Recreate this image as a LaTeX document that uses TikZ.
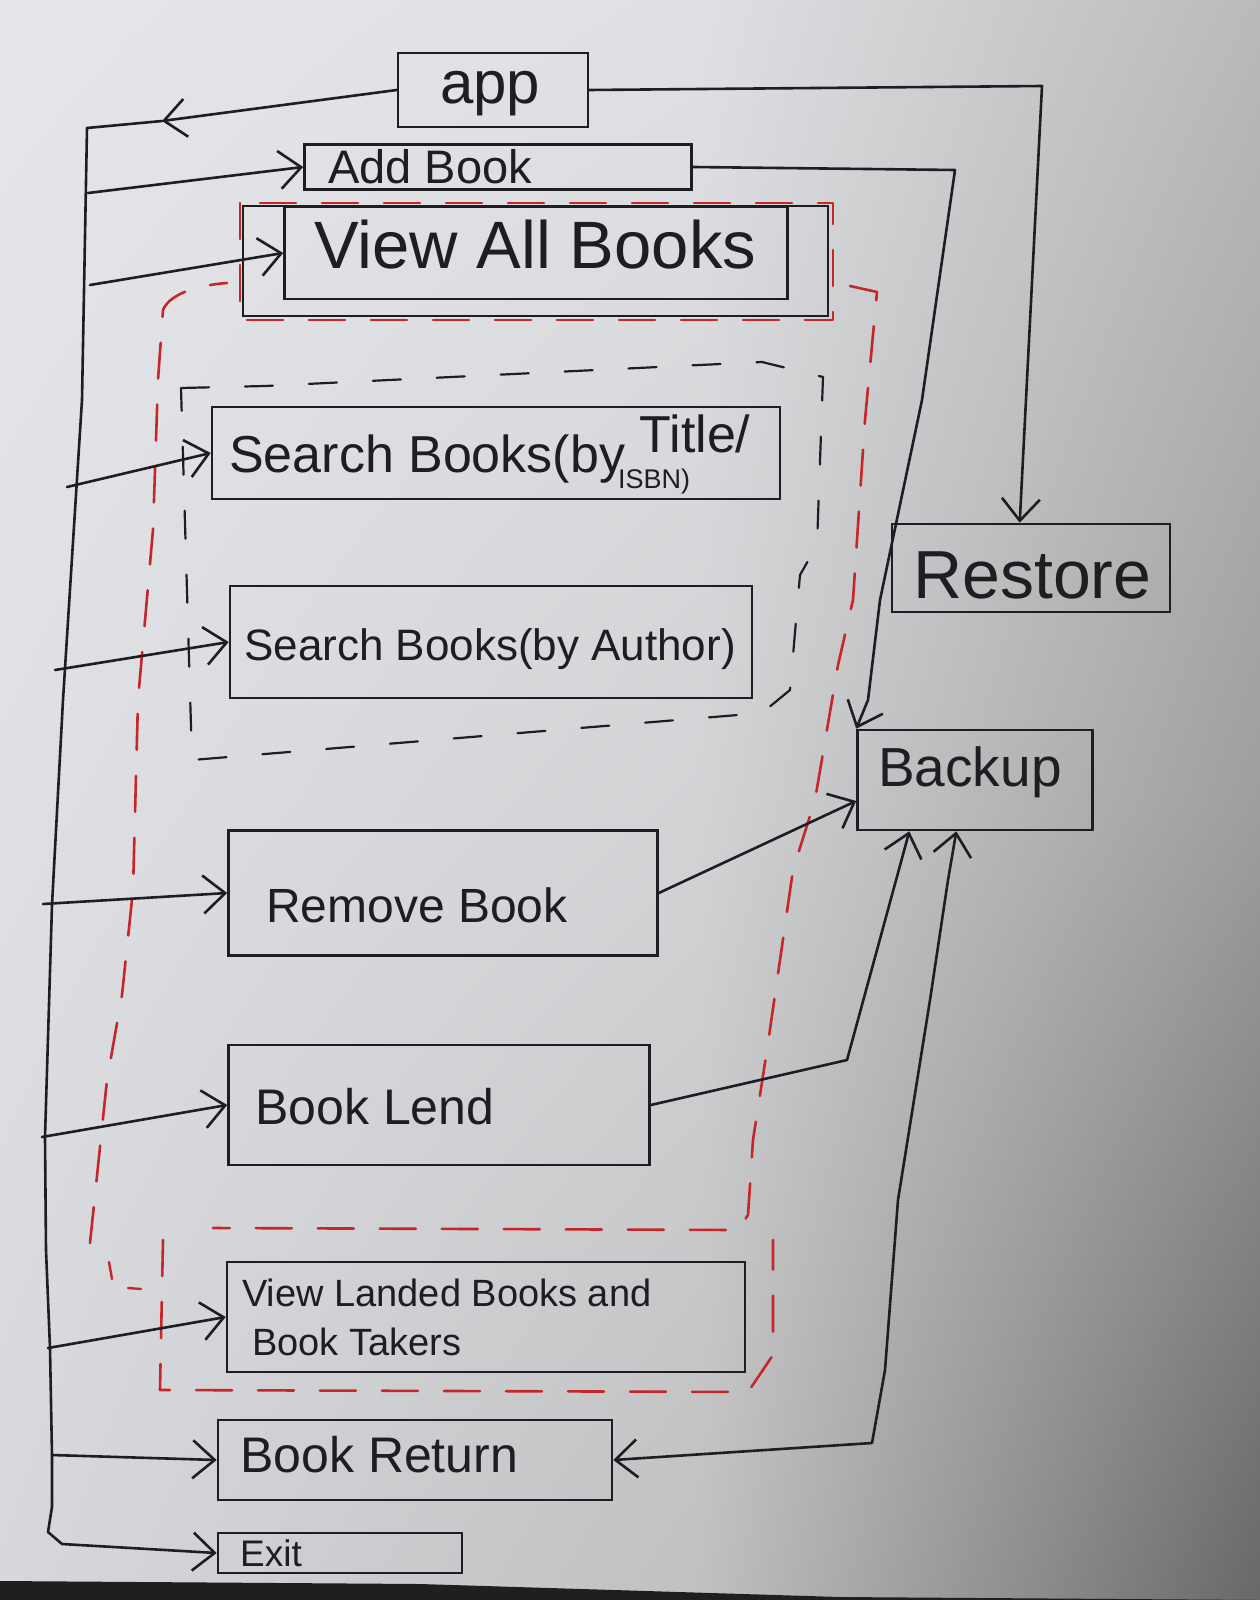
\documentclass[tikz,border=0pt]{standalone}
\usepackage{fontspec}
\setmainfont{Liberation Sans}
\usetikzlibrary{arrows.meta,shadings}
\definecolor{ink}{RGB}{30,30,34}
\definecolor{redink}{RGB}{198,38,42}
\definecolor{bgA}{RGB}{228,230,233}
\definecolor{bgB}{RGB}{222,224,227}
\definecolor{bgC}{RGB}{186,186,186}
\definecolor{bgD}{RGB}{222,224,228}
\definecolor{bgE}{RGB}{210,211,213}
\definecolor{bgF}{RGB}{158,158,158}
\definecolor{bgG}{RGB}{214,216,220}
\definecolor{bgH}{RGB}{192,192,193}
\definecolor{bgI}{RGB}{104,104,104}
\newcommand\myfs[1]{\fontsize{#1}{#1}\selectfont}
\begin{document}
\begin{tikzpicture}[x=1pt,y=-1pt,
  wire/.style={draw=ink, line width=2.6pt, line join=round, line cap=round},
  box/.style={draw=ink, line width=2.6pt, inner sep=0pt, rectangle},
  lbl/.style={anchor=base west, inner sep=0pt, text=ink},
  rdash/.style={draw=redink, line width=2.6pt, dash pattern=on 36pt off 26pt, line cap=round, line join=round},
  kdash/.style={draw=ink, line width=2.2pt, dash pattern=on 28pt off 36pt, line cap=round, line join=round},
  >={Straight Barb[length=22pt,width=38pt]}]
\useasboundingbox (0,0) rectangle (1260,1600);
% paper
\shade[upper left=bgA, upper right=bgB, lower left=bgD, lower right=bgE] (0,0) rectangle (700,800);
\shade[upper left=bgB, upper right=bgC, lower left=bgE, lower right=bgF] (700,0) rectangle (1260,800);
\shade[upper left=bgD, upper right=bgE, lower left=bgG, lower right=bgH] (0,800) rectangle (700,1600);
\shade[upper left=bgE, upper right=bgF, lower left=bgH, lower right=bgI] (700,800) rectangle (1260,1600);
\fill[black!88] (0,1581) -- (420,1584) -- (840,1597) -- (1260,1600) -- (0,1600) -- cycle;

% boxes
\node[box, minimum width=190pt, minimum height=74pt] (app) at (493,90) {};
\node[box, minimum width=387pt, minimum height=45pt] (addbook) at (498,167) {};
\node[box, minimum width=503pt, minimum height=92pt] (viewall) at (536,253) {};
\node[box, minimum width=568pt, minimum height=92pt] (search1) at (496,453) {};
\node[box, minimum width=522pt, minimum height=112pt] (search2) at (491,642) {};
\node[box, minimum width=429pt, minimum height=125pt] (remove) at (443,893) {};
\node[box, minimum width=421pt, minimum height=120pt] (lend) at (439,1105) {};
\node[box, minimum width=518pt, minimum height=110pt] (landed) at (486,1317) {};
\node[box, minimum width=394pt, minimum height=80pt] (bret) at (415,1460) {};
\node[box, minimum width=244pt, minimum height=40pt] (exit) at (340,1553) {};
\node[box, minimum width=278pt, minimum height=88pt] (restore) at (1031,568) {};
\node[box, minimum width=235pt, minimum height=100pt] (backup) at (975,780) {};

% labels
\node[lbl, font=\myfs{60}] (tapp) at (440,104) {app};
\node[lbl, font=\myfs{47}] (tadd) at (328,183) {Add Book};
\node[lbl, font=\myfs{67}] (tview) at (314,268) {View All Books};
\node[lbl, font=\myfs{52}] (ts1) at (229,472) {Search Books(by \raisebox{20pt}{Title/}};
\node[lbl, font=\myfs{27}] (ts1b) at (618,488) {ISBN)};
\node[lbl, font=\myfs{44}] (ts2) at (244,660) {Search Books(by Author)};
\node[lbl, font=\myfs{48}] (trem) at (266,922) {Remove Book};
\node[lbl, font=\myfs{50}] (tlend) at (255,1124) {Book Lend};
\node[lbl, font=\myfs{38}] (tland1) at (242,1306) {View Landed Books and};
\node[lbl, font=\myfs{38}] (tland2) at (252,1355) {Book Takers};
\node[lbl, font=\myfs{50}] (tret) at (240,1472) {Book Return};
\node[lbl, font=\myfs{37}] (texit) at (240,1566) {Exit};
\node[lbl, font=\myfs{68}] (trest) at (913,598) {Restore};
\node[lbl, font=\myfs{55}] (tback) at (878,786) {Backup};

% group outlines
\draw[ink, line width=1.6pt] (243,206) rectangle (828,316);
\draw[rdash] (240,203) rectangle (833,320);
\draw[kdash] (181,388) -- (265,386) -- (762,362) -- (823,377) -- (817,545) -- (800,575) -- (790,690) -- (762,713) -- (192,760) -- cycle;
\draw[rdash] (90,1243) -- (107,1080) -- (122,995) -- (133,890) -- (138,700) -- (153,530) -- (158,380) -- (163,310) .. controls (170,293) and (200,285) .. (227,283);
\draw[rdash] (850,286) -- (877,292) -- (865,420) -- (853,600) -- (838,665) -- (815,800) -- (793,870) -- (767,1050) -- (753,1140) -- (748,1215) -- (738,1230) -- (213,1228);
\draw[redink, line width=2.4pt, line cap=round] (109,1262) -- (112,1279);
\draw[redink, line width=2.4pt, line cap=round] (128,1288) -- (141,1289);
\draw[rdash] (163,1240) -- (160,1390) -- (748,1392) -- (773,1355) -- (773,1240);

% trunk and branches
\coordinate (aL) at (162,121);
\coordinate (t0) at (87,128);
\coordinate (b1) at (88,193);
\coordinate (b2) at (90,285);
\coordinate (b3) at (67,487);
\coordinate (b4) at (55,670);
\coordinate (b5) at (43,904);
\coordinate (b6) at (42,1137);
\coordinate (b7) at (48,1348);
\coordinate (b8) at (52,1455);
\coordinate (tEnd) at (52,1507);
\draw[wire,->] (app.west) -- (aL);
\draw[wire] (aL) -- (t0);
\draw[wire] (t0) -- (82,400) -- (63,700) -- (52,905) -- (45,1137) -- (46,1250) -- (50,1348) -- (52,1455) -- (tEnd);
\draw[wire,->] (tEnd) -- (48,1532) -- (62,1544) -- (exit.west);
\draw[wire,->] (b1) -- (addbook.west);
\draw[wire,->] (b2) -- (viewall.west);
\draw[wire,->] (b3) -- (search1.west);
\draw[wire,->] (b4) -- (search2.west);
\draw[wire,->] (b5) -- (remove.west);
\draw[wire,->] (b6) -- (lend.west);
\draw[wire,->] (b7) -- (landed.west);
\draw[wire,->] (b8) -- (bret.west);

% right side connectors
\draw[wire,->] (app.east) -- (1042,86) -- (restore.104);
\draw[wire,->] (addbook.east) -- (955,170) -- (922,400) -- (880,600) -- (868,700) -- (backup.north west);
\draw[wire,->] (remove.east) -- (backup.190);
\draw[wire,->] (lend.east) -- (847,1060) -- (backup.218);
\draw[wire,<->] (bret.east) -- (872,1443) -- (885,1370) -- (898,1200) -- (930,1000) -- (948,880) -- (backup.250);
\end{tikzpicture}
\end{document}
